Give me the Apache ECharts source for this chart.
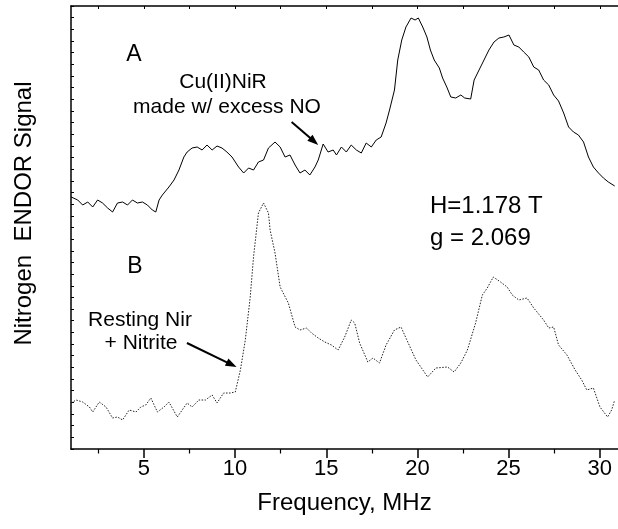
<!DOCTYPE html>
<html>
<head>
<meta charset="utf-8">
<script src="https://cdn.jsdelivr.net/npm/echarts@6/dist/echarts.min.js"></script>
<style>
html,body{margin:0;padding:0;background:#fff;}
#chart{width:618px;height:529px;}
</style>
</head>
<body>
<div id="chart"></div>
<script>
// Frequency (MHz) and ENDOR signal (arbitrary units)
const aFreq = [1.01,1.37,1.64,1.92,2.19,2.46,2.73,3.01,3.28,3.55,3.83,4.10,4.37,4.64,4.92,5.19,5.46,5.65,5.83,6.01,6.37,6.65,6.92,7.19,7.37,7.64,7.92,8.19,8.46,8.74,9.01,9.28,9.55,9.83,10.19,10.47,10.74,11.01,11.28,11.56,11.83,12.19,12.47,12.74,13.01,13.29,13.56,13.83,14.10,14.38,14.56,14.83,15.10,15.38,15.56,15.83,16.10,16.37,16.65,16.92,17.19,17.47,17.74,18.01,18.28,18.47,18.74,18.92,19.14,19.37,19.65,19.87,20.05,20.29,20.52,20.71,20.92,21.20,21.38,21.61,21.83,22.10,22.38,22.59,22.92,23.11,23.38,23.65,23.92,24.20,24.47,24.74,25.02,25.29,25.56,25.83,26.11,26.38,26.65,26.92,27.20,27.47,27.74,28.02,28.29,28.56,28.83,29.11,29.38,29.65,29.93,30.20,30.47,30.82];
const aSig = [252,249,244,247,242,249,246,241,237,246,247,244,249,246,247,244,239,237,249,254,262,269,279,292,297,301,302,299,304,299,303,301,297,292,282,276,281,279,287,289,301,307,302,292,294,284,276,279,274,282,289,305,297,299,294,302,297,304,299,296,306,302,309,312,326,339,359,389,409,422,431,429,431,422,412,399,389,381,371,362,352,351,354,351,350,369,379,389,399,407,411,412,414,404,402,397,392,382,379,369,364,354,348,336,322,317,314,307,292,282,276,271,267,263];

const bFreq = [1.01,1.28,1.64,2.01,2.19,2.55,2.92,3.28,3.55,3.83,4.19,4.56,4.83,5.10,5.38,5.74,6.10,6.37,6.83,7.10,7.37,7.64,8.01,8.38,8.74,9.01,9.37,9.74,10.01,10.29,10.56,10.83,11.01,11.28,11.56,11.83,11.92,12.19,12.47,12.92,13.29,13.56,13.92,14.19,14.56,14.92,15.28,15.65,16.01,16.37,16.56,16.83,17.28,17.56,17.92,18.28,18.74,19.10,19.47,19.92,20.56,21.01,21.65,22.01,22.38,22.74,23.19,23.56,23.83,24.16,24.56,24.92,25.20,25.56,26.01,26.38,26.92,27.20,27.47,27.74,28.20,28.65,29.01,29.29,29.65,30.01,30.43,30.65,30.82];
const bSig = [46,49,47,42,37,47,42,31,32,29,39,37,42,44,51,37,42,47,32,39,46,42,49,49,54,46,56,56,57,79,109,152,192,236,246,236,219,196,162,146,122,119,121,116,111,107,104,99,112,129,126,106,87,91,86,104,119,122,107,89,72,81,82,77,86,99,126,154,161,172,167,162,154,149,151,141,129,121,122,104,94,79,69,59,61,42,32,39,49];

const xMajorTicks = [5,10,15,20,25,30];
const xMinorTicks = [2.5,7.5,12.5,17.5,22.5,27.5];
const xTopTicks = [2.5,5,7.5,10,12.5,15,17.5,20,22.5,25,27.5,30];

const FONT = 'Liberation Sans, Arial, Helvetica, sans-serif';
const chart = echarts.init(document.getElementById('chart'), null, {renderer:'canvas'});

function pairs(xs, ys){ return xs.map((x,i)=>[x, ys[i]]); }

const axisLineStyle = {color:'#000', width:1.5};

chart.setOption({
  animation:false,
  backgroundColor:'#fff',
  grid:{left:71, right:-4, top:6, bottom:80},
  xAxis:[
    {type:'value', min:1, max:31, position:'bottom',
     axisLine:{show:true, onZero:false, lineStyle:axisLineStyle},
     axisTick:{show:true, inside:false, length:9, customValues:xMajorTicks, lineStyle:{color:'#000', width:1.5}},
     axisLabel:{show:true, customValues:xMajorTicks, margin:9, color:'#000', fontSize:22, fontFamily:FONT},
     splitLine:{show:false},
     name:'Frequency, MHz', nameLocation:'middle', nameGap:42,
     nameTextStyle:{color:'#000', fontSize:24, fontFamily:FONT}},
    {type:'value', min:1, max:31, position:'bottom',
     axisLine:{show:false},
     axisTick:{show:true, inside:false, length:4.5, customValues:xMinorTicks, lineStyle:{color:'#000', width:1.2}},
     axisLabel:{show:false}, splitLine:{show:false}},
    {type:'value', min:1, max:31, position:'top',
     axisLine:{show:true, onZero:false, lineStyle:axisLineStyle},
     axisTick:{show:true, inside:true, length:3, customValues:xTopTicks, lineStyle:{color:'#000', width:1}},
     axisLabel:{show:false}, splitLine:{show:false}}
  ],
  yAxis:[{
    type:'value', min:0, max:443, interval:11.66,
    axisLine:{show:true, onZero:false, lineStyle:axisLineStyle},
    axisTick:{show:true, inside:true, length:3, lineStyle:{color:'#000', width:1}},
    axisLabel:{show:false}, splitLine:{show:false},
    name:'Nitrogen  ENDOR Signal', nameLocation:'middle', nameGap:35, nameRotate:90,
    nameTextStyle:{color:'#000', fontSize:24, fontFamily:FONT, padding:[0,0,0,28]}
  }],
  series:[
    {type:'line', name:'A', data:pairs(aFreq,aSig), showSymbol:false, symbol:'none',
     lineStyle:{color:'#000', width:1}, xAxisIndex:0, yAxisIndex:0},
    {type:'line', name:'B', data:pairs(bFreq,bSig), showSymbol:false, symbol:'none',
     lineStyle:{color:'#222', width:1, type:[1.5,1.5]}, xAxisIndex:0, yAxisIndex:0}
  ]
});

// annotation arrows anchored in data coordinates
const arrowsData = [
  {from:[13.10,327], to:[14.56,304]},
  {from:[7.36,106], to:[10.08,82]}
];
function arrow(p0, p1){
  const dx=p1[0]-p0[0], dy=p1[1]-p0[1], L=Math.hypot(dx,dy), ux=dx/L, uy=dy/L;
  const hl=11, hw=4;
  const bx=p1[0]-ux*hl, by=p1[1]-uy*hl;
  return [
    {type:'line', shape:{x1:p0[0], y1:p0[1], x2:bx+ux*2, y2:by+uy*2}, style:{stroke:'#000', lineWidth:2}},
    {type:'polygon', shape:{points:[[p1[0],p1[1]],[bx-uy*hw,by+ux*hw],[bx+uy*hw,by-ux*hw]]}, style:{fill:'#000'}}
  ];
}
let g = [];
arrowsData.forEach(a=>{
  g = g.concat(arrow(chart.convertToPixel({xAxisIndex:0,yAxisIndex:0}, a.from), chart.convertToPixel({xAxisIndex:0,yAxisIndex:0}, a.to)));
});
function txt(s, x, y, size, align){
  return {type:'text', x:x, y:y, style:{text:s, fill:'#000', font:size+'px '+FONT, align:align||'center', verticalAlign:'middle'}};
}
g.push(txt('A',134,55,23));
g.push(txt('Cu(II)NiR',223,82,21));
g.push(txt('made w/ excess NO',227,107,21));
g.push(txt('H=1.178 T',430,206,24,'left'));
g.push(txt('g = 2.069',430,238,24,'left'));
g.push(txt('B',135,267,23));
g.push(txt('Resting Nir',140,320,21));
g.push(txt('+ Nitrite',141,343,21));
chart.setOption({graphic:g});
</script>
</body>
</html>
